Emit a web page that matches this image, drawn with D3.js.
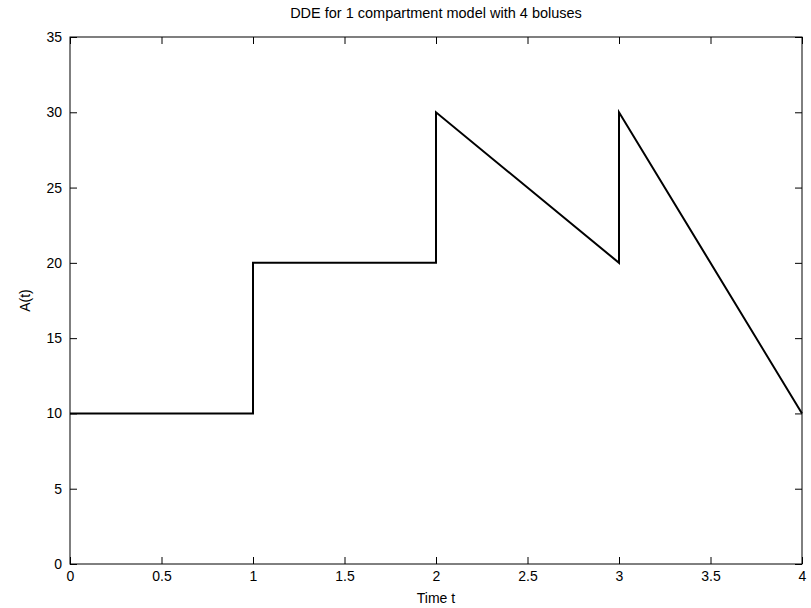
<!DOCTYPE html>
<html>
<head>
<meta charset="utf-8">
<script src="https://cdn.jsdelivr.net/npm/d3@7"></script>
<style>
  body { margin: 0; background: #fff; }
  text { font-family: "Liberation Sans", Arial, sans-serif; fill: #000; }
</style>
</head>
<body>
<div id="container"></div>
<script>
/* DATA */
const timePoints = [0, 1, 1, 2, 2, 3, 3, 4];
const amounts = [10, 10, 20, 20, 30, 20, 30, 10];
const xTicks = [0, 0.5, 1, 1.5, 2, 2.5, 3, 3.5, 4];
const yTicks = [0, 5, 10, 15, 20, 25, 30, 35];
const titleText = "DDE for 1 compartment model with 4 boluses";

/* CONSTANTS */
const W = 811, H = 608;
const margin = { top: 37, right: 9, bottom: 44, left: 70 };
const width = W - margin.left - margin.right;
const height = H - margin.top - margin.bottom;
const tickLen = 7;

const svg = d3.select("#container")
  .append("svg")
  .attr("width", W)
  .attr("height", H)
  .style("background-color", "#ffffff");

const g = svg.append("g")
  .attr("transform", `translate(${margin.left},${margin.top})`);

/* SCALES */
const xScale = d3.scaleLinear().domain([0, 4]).range([0, width]);
const yScale = d3.scaleLinear().domain([0, 35]).range([height, 0]);

/* AXES - inward ticks on all sides */
g.append("g")
  .attr("transform", `translate(0,${height})`)
  .call(d3.axisBottom(xScale).tickValues(xTicks).tickSize(-tickLen).tickPadding(7).tickFormat(d3.format("")))
  .call(a => a.select(".domain").remove());

g.append("g")
  .call(d3.axisTop(xScale).tickValues(xTicks).tickSize(-tickLen).tickFormat(""))
  .call(a => a.select(".domain").remove());

g.append("g")
  .call(d3.axisLeft(yScale).tickValues(yTicks).tickSize(-tickLen).tickPadding(8))
  .call(a => a.select(".domain").remove());

g.append("g")
  .attr("transform", `translate(${width},0)`)
  .call(d3.axisRight(yScale).tickValues(yTicks).tickSize(-tickLen).tickFormat(""))
  .call(a => a.select(".domain").remove());

g.selectAll(".tick line").attr("stroke", "#000");
g.selectAll(".tick text").style("font-size", "14px").attr("fill", "#000");

// frame
g.append("rect")
  .attr("x", 0).attr("y", 0)
  .attr("width", width).attr("height", height)
  .attr("fill", "none")
  .attr("stroke", "#000")
  .attr("stroke-width", 1);

/* LINE */
const pts = timePoints.map((t, i) => [t, amounts[i]]);
g.append("path")
  .datum(pts)
  .attr("fill", "none")
  .attr("stroke", "#000")
  .attr("stroke-width", 2)
  .attr("d", d3.line().x(d => xScale(d[0])).y(d => yScale(d[1])));

/* LABELS */
svg.append("text")
  .attr("x", margin.left + width / 2)
  .attr("y", 18)
  .attr("text-anchor", "middle")
  .style("font-size", "14.5px")
  .text(titleText);

svg.append("text")
  .attr("x", margin.left + width / 2)
  .attr("y", 603)
  .attr("text-anchor", "middle")
  .style("font-size", "14px")
  .text("Time t");

svg.append("text")
  .attr("transform", `translate(30,${margin.top + height / 2}) rotate(-90)`)
  .attr("text-anchor", "middle")
  .style("font-size", "14px")
  .text("A(t)");
</script>
</body>
</html>
